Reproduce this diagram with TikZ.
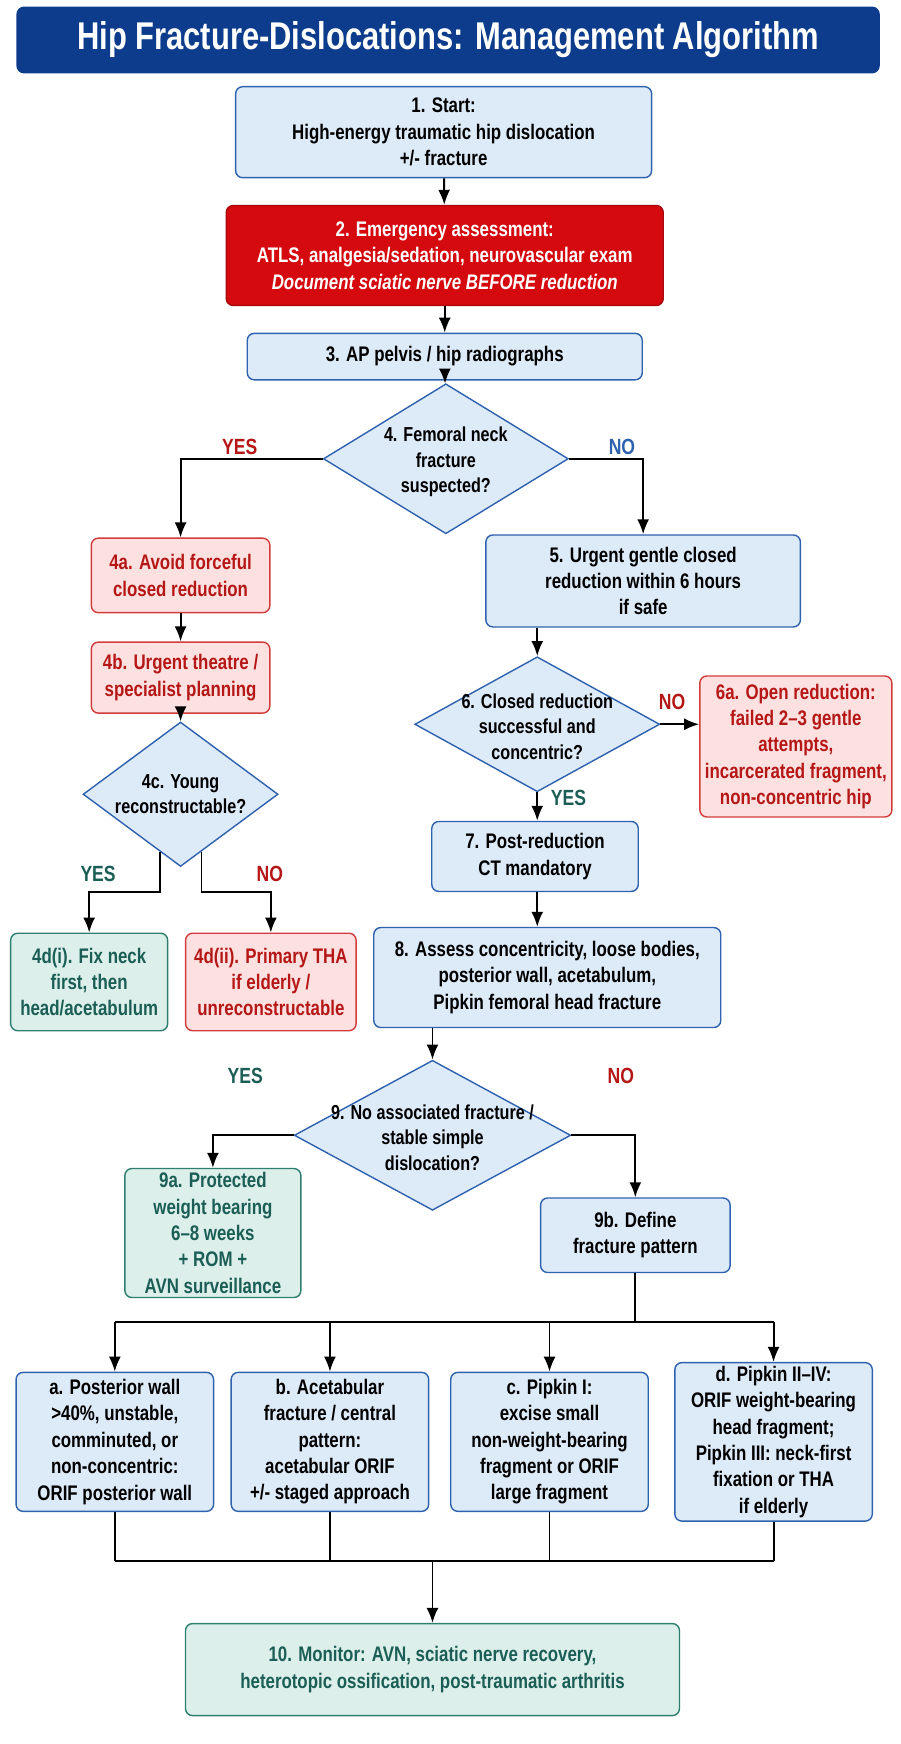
\documentclass[tikz,border=0pt]{standalone}
\usepackage{fontspec}
\setmainfont{Liberation Sans}[FakeStretch=0.8]
\usetikzlibrary{arrows.meta,shapes,calc}
\definecolor{navy}{HTML}{0D3C8C}
\definecolor{bfill}{HTML}{DDEAF8}
\definecolor{bline}{HTML}{2F62AE}
\definecolor{rfill}{HTML}{FDE1E1}
\definecolor{rline}{HTML}{D23B3B}
\definecolor{rtext}{HTML}{B51616}
\definecolor{gfill}{HTML}{DCEFEA}
\definecolor{gline}{HTML}{2F7F70}
\definecolor{gtext}{HTML}{1B5E55}
\definecolor{alarm}{HTML}{D40A0F}
\begin{document}
\begin{tikzpicture}[x=0.0223cm,y=-0.02222cm]
\tikzstyle{main}=[rectangle, rounded corners=4pt, thick, align=center, inner sep=2pt, font=\fontsize{12}{15}\selectfont\bfseries]
\tikzstyle{blue}=[main, draw=bline, fill=bfill]
\tikzstyle{warn}=[main, draw=rline, fill=rfill, text=rtext]
\tikzstyle{alarm}=[main, draw=alarm!80!black, fill=alarm, text=white]
\tikzstyle{good}=[main, draw=gline, fill=gfill, text=gtext]
\tikzstyle{dec}=[diamond, thick, draw=bline, fill=bfill, inner sep=0pt]
\tikzstyle{dectext}=[align=center, font=\fontsize{11.5}{14.5}\selectfont\bfseries]
\tikzstyle{lab}=[font=\fontsize{12.5}{14}\selectfont\bfseries]
\tikzstyle{connect}=[-{Latex[length=3mm,width=2.4mm]}, line width=1.1pt]
\tikzstyle{link}=[line width=1.1pt]

  \useasboundingbox (0,0) rectangle (808,1570);

  \node[main, draw=navy, fill=navy, text=white, minimum width=17.24cm, minimum height=1.31cm,
        font=\fontsize{22}{25}\selectfont\bfseries] (title) at (402,36) {Hip Fracture-Dislocations: Management Algorithm};

  \node[blue, minimum width=8.32cm, minimum height=1.82cm] (start) at (398,119)
        {1. Start:\\High-energy traumatic hip dislocation\\+/- fracture};
  \node[alarm, minimum width=8.74cm, minimum height=2cm] (emerg) at (399,230)
        {2. Emergency assessment:\\ATLS, analgesia/sedation, neurovascular exam\\\itshape Document sciatic nerve BEFORE reduction};
  \node[blue, minimum width=7.9cm, minimum height=0.93cm] (xray) at (399,321) {3. AP pelvis / hip radiographs};
  \node[dec, minimum width=4.9cm, minimum height=3cm] (neck) at (400,413) {};
  \node[dectext] (necktext) at (400,416) {4. Femoral neck\\fracture\\suspected?};

  \node[warn, minimum width=3.57cm, minimum height=1.49cm] (avoid) at (162,518) {4a. Avoid forceful\\closed reduction};
  \node[warn, minimum width=3.57cm, minimum height=1.42cm] (theatre) at (162,610) {4b. Urgent theatre /\\specialist planning};
  \node[dec, minimum width=3.9cm, minimum height=2.89cm] (young) at (162,715) {};
  \node[dectext] (youngtext) at (162,715) {4c. Young\\reconstructable?};
  \node[good, minimum width=3.14cm, minimum height=1.95cm] (fix) at (80,884) {4d(i). Fix neck\\first, then\\head/acetabulum};
  \node[warn, minimum width=3.41cm, minimum height=1.95cm] (tha) at (243,884) {4d(ii). Primary THA\\if elderly /\\unreconstructable};

  \node[blue, minimum width=6.29cm, minimum height=1.84cm] (gentle) at (577,523) {5. Urgent gentle closed\\reduction within 6 hours\\if safe};
  \node[dec, minimum width=4.9cm, minimum height=2.7cm] (closed) at (482,652) {};
  \node[dectext] (closedtext) at (482,654) {6. Closed reduction\\successful and\\concentric?};
  \node[warn, minimum width=3.84cm, minimum height=2.82cm] (open) at (714,672) {6a. Open reduction:\\failed 2--3 gentle\\attempts,\\incarcerated fragment,\\non-concentric hip};
  \node[blue, minimum width=4.13cm, minimum height=1.4cm] (ct) at (480,771) {7. Post-reduction\\CT mandatory};
  \node[blue, minimum width=6.94cm, minimum height=2cm] (assess) at (491,880) {8. Assess concentricity, loose bodies,\\posterior wall, acetabulum,\\Pipkin femoral head fracture};

  \node[dec, minimum width=5.53cm, minimum height=3cm] (simple) at (388,1022) {};
  \node[dectext] (simpletext) at (388,1024) {9. No associated fracture /\\stable simple\\dislocation?};
  \node[good, minimum width=3.52cm, minimum height=2.58cm] (protect) at (191,1110) {9a. Protected\\weight bearing\\6--8 weeks\\+ ROM +\\AVN surveillance};
  \node[blue, minimum width=3.79cm, minimum height=1.49cm] (pattern) at (570,1112) {9b. Define\\fracture pattern};

  \node[blue, minimum width=3.95cm, minimum height=2.78cm] (pa) at (103,1298) {a. Posterior wall\\>40\%, unstable,\\comminuted, or\\non-concentric:\\ORIF posterior wall};
  \node[blue, minimum width=3.95cm, minimum height=2.78cm] (pb) at (296,1298) {b. Acetabular\\fracture / central\\pattern:\\acetabular ORIF\\+/- staged approach};
  \node[blue, minimum width=3.95cm, minimum height=2.78cm] (pc) at (493,1298) {c. Pipkin I:\\excise small\\non-weight-bearing\\fragment or ORIF\\large fragment};
  \node[blue, minimum width=3.95cm, minimum height=2.78cm] (pd) at (694,1298) {d. Pipkin II--IV:\\ORIF weight-bearing\\head fragment;\\Pipkin III: neck-first\\fixation or THA\\if elderly};
  \node[good, minimum width=9.88cm, minimum height=1.84cm] (monitor) at (388,1503) {10. Monitor: AVN, sciatic nerve recovery,\\heterotopic ossification, post-traumatic arthritis};

  \node[lab, text=rtext] (yes4) at (215,402) {YES};
  \node[lab, text=bline] (no4) at (558,402) {NO};
  \node[lab, text=gtext] (yes4c) at (88,787) {YES};
  \node[lab, text=rtext] (no4c) at (242,787) {NO};
  \node[lab, text=rtext] (no6) at (603,632) {NO};
  \node[lab, text=gtext] (yes6) at (510,718) {YES};
  \node[lab, text=gtext] (yes9) at (220,969) {YES};
  \node[lab, text=rtext] (no9) at (557,969) {NO};

  \coordinate (youngl) at (80,803);
  \coordinate (youngr) at (243,803);
  \coordinate (split) at (570,1190);
  \coordinate (merge) at (388,1405);

  \path (start) edge [connect] (emerg);
  \path (emerg) edge [connect] (xray);
  \path (xray) edge [connect] (neck);
  \draw[connect] (neck.west) -| (avoid.north);
  \draw[connect] (neck.east) -| (gentle.north);
  \path (avoid) edge [connect] (theatre);
  \path (theatre) edge [connect] (young);
  \draw[connect] (young.250) |- (youngl) -- (fix.north);
  \draw[connect] (young.290) |- (youngr) -- (tha.north);
  \draw[connect] (gentle.south -| closed.north) -- (closed.north);
  \draw[connect] (closed.east) -- (closed.east -| open.west);
  \draw[connect] (closed.south) -- (closed.south |- ct.north);
  \draw[connect] (closed.south |- ct.south) -- (closed.south |- assess.north);
  \draw[connect] (simple.north |- assess.south) -- (simple.north);
  \draw[connect] (simple.west) -| (protect.north);
  \draw[connect] (simple.east) -| (pattern.north);

  \draw[link] (pattern.south) -- (split);
  \draw[link] (pa.north |- split) -- (pd.north |- split);
  \foreach \n in {pa,pb,pc,pd}
    \draw[connect] (\n.north |- split) -- (\n.north);
  \foreach \n in {pa,pb,pc,pd}
    \draw[link] (\n.south) -- (\n.south |- merge);
  \draw[link] (pa.south |- merge) -- (pd.south |- merge);
  \draw[connect] (merge) -- (monitor.north);

\end{tikzpicture}
\end{document}
